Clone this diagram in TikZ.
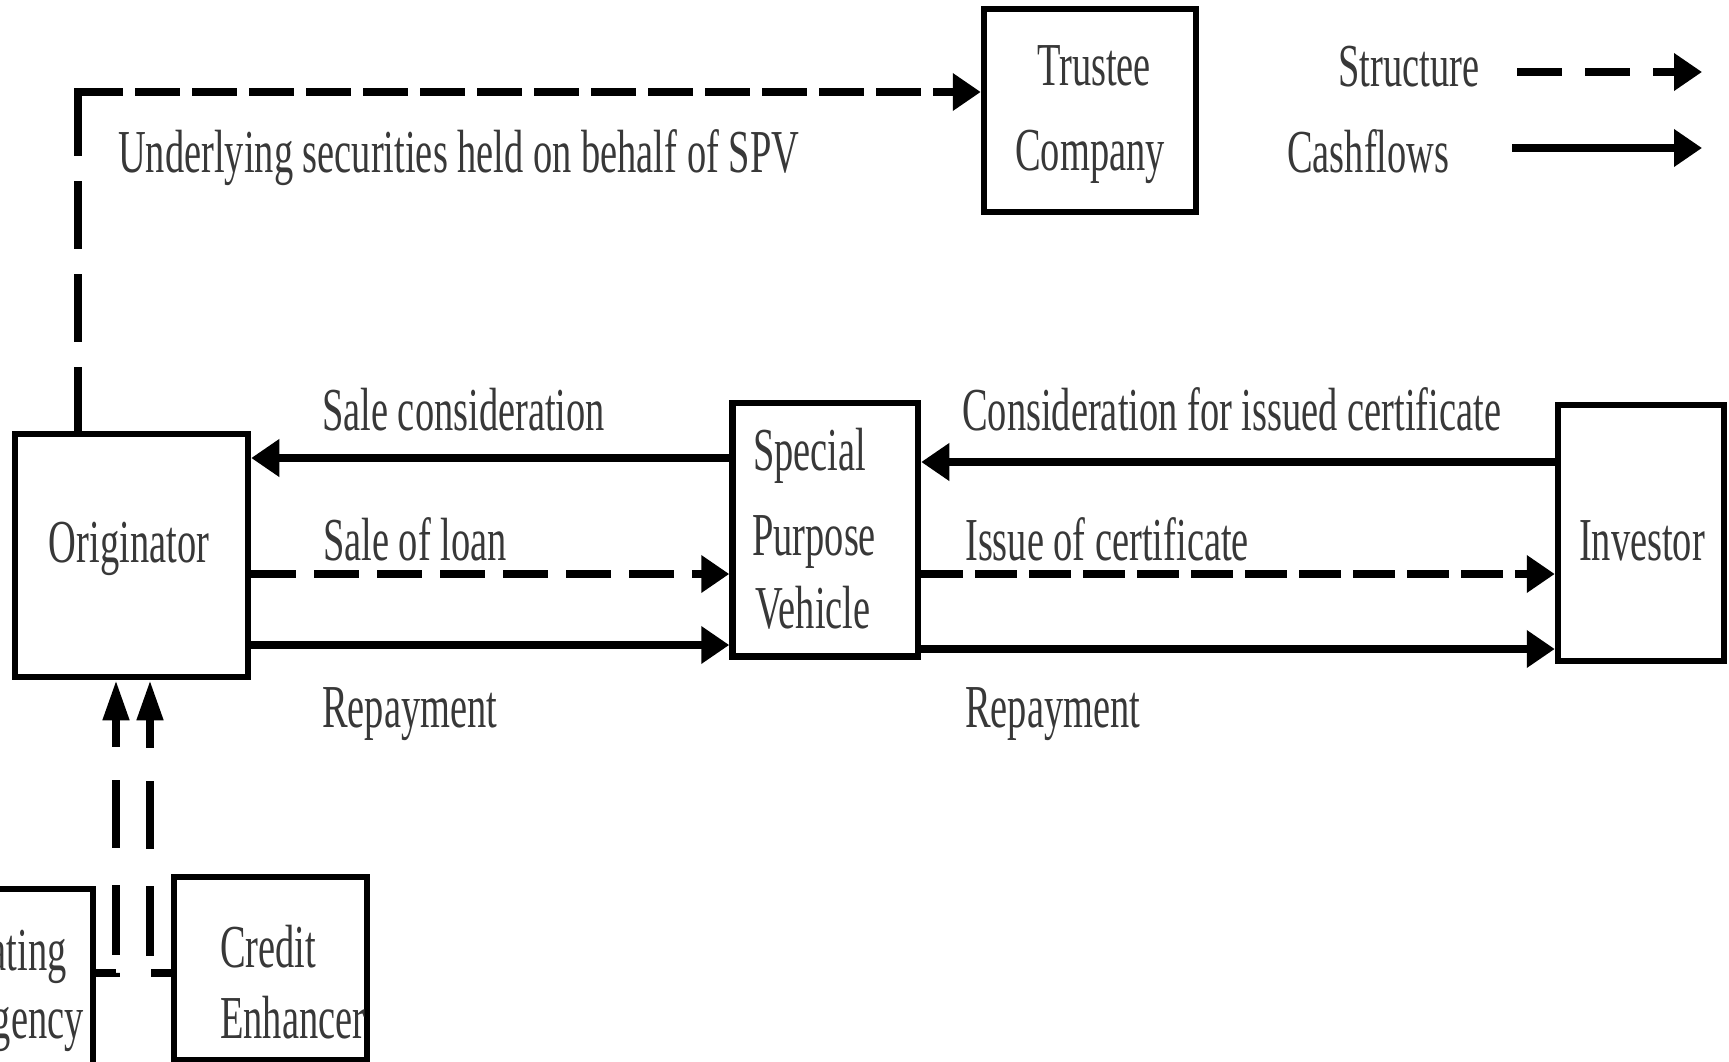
\documentclass[tikz,border=0pt]{standalone}
\usepackage{fontspec}
\setmainfont{Liberation Serif}[FakeStretch=0.63]
\usetikzlibrary{arrows.meta}
\begin{document}
\begin{tikzpicture}[x=1pt,y=-1pt,
  box/.style={draw, line width=6.5pt, inner sep=0pt},
  txt/.style={inner sep=0pt, text=black!78, font=\fontsize{61pt}{70pt}\selectfont},
  conn/.style={line width=7.5pt},
  headh/.style={-{Triangle[length=28pt,width=36pt]}},
  headv/.style={-{Triangle[length=40pt,width=25pt]}},
  loandash/.style={dash pattern=on 45pt off 18pt},
  certdash/.style={dash pattern=on 42pt off 12pt},
  topdash/.style={dash pattern=on 45pt off 12pt},
  risedash/.style={dash pattern=on 68pt off 25pt},
  keydash/.style={dash pattern=on 45pt off 23pt},
  agencydash/.style={dash pattern=on 20pt off 18pt on 70pt off 37pt on 68pt off 33pt on 200pt},
]
\useasboundingbox (0,0) rectangle (1729,1062);
\clip (0,0) rectangle (1729,1062);
\fill[white] (0,0) rectangle (1729,1062);

% parties
\node[box, minimum width=233pt, minimum height=243pt] (orig) at (131.5,555.5) {};
\node[box, minimum width=185.5pt, minimum height=253.5pt] (spv) at (825.25,529.75) {};
\node[box, minimum width=166pt, minimum height=256pt] (inv) at (1641,533) {};
\node[box, minimum width=212pt, minimum height=203pt] (trustee) at (1090,110.5) {};
\node[box, minimum width=193pt, minimum height=183pt] (cr) at (270.5,968.5) {};
\node[box, minimum width=193pt, minimum height=211pt] (ra) at (-3.5,994.5) {};

% box texts
\node[txt, anchor=base] (tOrig) at (129,562) {Originator};
\node[txt, anchor=base west] (tSpv1) at (753,470) {Special};
\node[txt, anchor=base west] (tSpv2) at (752,555) {Purpose};
\node[txt, anchor=base west] (tSpv3) at (755,628) {Vehicle};
\node[txt, anchor=base] (tInv) at (1642,560) {Investor};
\node[txt, anchor=base] (tTr1) at (1094,86) {Trustee};
\node[txt, anchor=base] (tTr2) at (1090,171) {Company};
\node[txt, anchor=base west] (tCr1) at (220,967) {Credit};
\node[txt, anchor=base west] (tCr2) at (220,1038) {Enhancer};
\node[txt, anchor=base west] (tRa1) at (-36,970) {Rating};
\node[txt, anchor=base west] (tRa2) at (-36,1038) {Agency};

% flow levels
\coordinate (rA) at (0,458);
\coordinate (rB) at (0,574);
\coordinate (rC) at (0,645);
\coordinate (rD) at (0,462);
\coordinate (rF) at (0,649);
\coordinate (rS) at (0,973);
\coordinate (corner) at (78,92);

% originator <-> SPV
\draw[conn, headh] (spv.west |- rA) -- (orig.east |- rA);
\draw[conn, loandash, headh] (orig.east |- rB) -- (spv.west |- rB);
\draw[conn, headh] (orig.east |- rC) -- (spv.west |- rC);

% SPV <-> investor
\draw[conn, headh] (inv.west |- rD) -- (spv.east |- rD);
\draw[conn, certdash, headh] (spv.east |- rB) -- (inv.west |- rB);
\draw[conn, headh] (spv.east |- rF) -- (inv.west |- rF);

% originator -> trustee
\draw[conn, risedash] ([yshift=3.75pt]corner) -- (corner |- orig.north);
\draw[conn, topdash, headh] (corner) -- (corner -| trustee.west);

% rating agency and credit enhancer -> originator
\draw[conn, agencydash, headv] (ra.east |- rS) -| ([xshift=-15.5pt]orig.south);
\draw[conn, agencydash, headv] (cr.west |- rS) -| ([xshift=18.5pt]orig.south);

% flow labels
\node[txt, anchor=base west] (lSec) at (118,172) {Underlying securities held on behalf of SPV};
\node[txt, anchor=base west] (lSc) at (322,430) {Sale consideration};
\node[txt, anchor=base west] (lSl) at (323,560) {Sale of loan};
\node[txt, anchor=base west] (lRp1) at (322,727) {Repayment};
\node[txt, anchor=base west] (lCic) at (962,430) {Consideration for issued certificate};
\node[txt, anchor=base west] (lIc) at (965,560) {Issue of certificate};
\node[txt, anchor=base west] (lRp2) at (965,727) {Repayment};

% key
\node[txt, anchor=base west] (kS) at (1338,87) {Structure};
\node[txt, anchor=base west] (kC) at (1287,172) {Cashflows};
\coordinate (ks0) at (1517,72);
\coordinate (ks1) at (1702,72);
\coordinate (kc0) at (1512,148);
\coordinate (kc1) at (1702,148);
\draw[conn, keydash, headh] (ks0) -- (ks1);
\draw[conn, headh] (kc0) -- (kc1);
\end{tikzpicture}
\end{document}
